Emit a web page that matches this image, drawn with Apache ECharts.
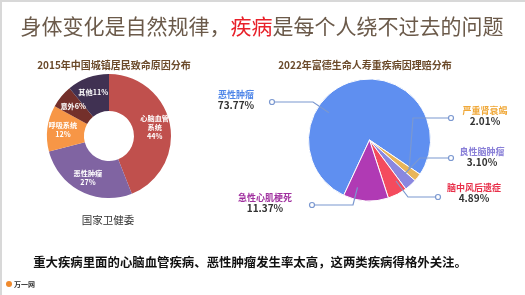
<!DOCTYPE html>
<html><head><meta charset="utf-8">
<script src="https://cdn.jsdelivr.net/npm/echarts@6/dist/echarts.min.js"></script>
<style>html,body{margin:0;padding:0;background:#fff}#c{width:525px;height:295px}</style>
</head><body><div id="c"></div>
<script>
// ---- data ----
const leftCategories = ['心脑血管\n系统', '恶性肿瘤', '呼吸系统', '意外', '其他'];
const leftValues = [44, 27, 12, 6, 11];
const leftLabelBreak = [true, true, true, false, false];
const rightCategories = ['恶性肿瘤', '严重肾衰竭', '良性脑肿瘤', '脑中风后遗症', '急性心肌梗死'];
const rightValues = [73.77, 2.01, 3.10, 4.89, 11.37];

// ---- styles / layout ----
const FONT = "'Noto Sans CJK SC', 'Noto Sans', sans-serif";
const leftColors = ['#c0504d', '#8064a2', '#f79646', '#74302b', '#403152'];
const rightColors = ['#5f8ff0', '#e8b55a', '#8a87e0', '#f44b5e', '#b03ab4'];
const rightNameColors = ['#4f86e8', '#f0a838', '#8a80d8', '#e8304a', '#a0309f'];
const RC = [369.5, 140], RR = 61, RSTART = 245;
const rDot = [[272, 102], [451, 118], [451, 158], [438, 197], [312, 205]];
const rElbow = [[313, 102], [413, 118], [420, 158], [408, 197], [353, 205]];
const rText = [[236, 100], [485, 116], [482, 157], [474, 193], [265, 203]];
const LINE = '#7b98d0';

const rTotal = rightValues.reduce((a, b) => a + b, 0);
const rRanges = [];
(function () { let a = RSTART; rightValues.forEach(v => { const s = v / rTotal * 360; rRanges.push([a - s, a]); a -= s; }); })();
function lineStart(i) {
  const lo = rRanges[i][0], hi = rRanges[i][1], e = rElbow[i];
  let t = Math.atan2(-(e[1] - RC[1]), e[0] - RC[0]) * 180 / Math.PI;
  while (t < lo) t += 360; while (t >= lo + 360) t -= 360;
  const m = (hi - lo) * 0.2;
  if (t > hi) { const dh = t - hi, dl = lo + 360 - t; t = dh < dl ? hi - m : lo + m; }
  else t = Math.min(Math.max(t, lo + m), hi - m);
  const rad = t * Math.PI / 180, r = RR * 0.8;
  return [RC[0] + r * Math.cos(rad), RC[1] - r * Math.sin(rad)];
}

const rich = { v: { fontSize: 10, fontWeight: 'bold', color: '#333', fontFamily: FONT, lineHeight: 11 } };
rightNameColors.forEach((c, i) => { rich['n' + i] = { fontSize: 9, fontWeight: 'bold', color: c, fontFamily: FONT, lineHeight: 11 }; });

const centerText = { align: 'center', verticalAlign: 'middle', textAlign: 'center', textVerticalAlign: 'middle' };
const graphics = [
  { type: 'rect', shape: { x: 0, y: 0, width: 525, height: 2 }, style: { fill: '#d8d8d8' } },
  { type: 'rect', shape: { x: 0, y: 0, width: 2, height: 295 }, style: { fill: '#d8d8d8' } },
  { type: 'text', x: 262, y: 26, style: Object.assign({
    text: '{a|身体变化是自然规律，}{b|疾病}{a|是每个人绕不过去的问题}',
    rich: { a: { fill: '#6b5a4a', fontSize: 21, fontFamily: FONT }, b: { fill: '#e8212a', fontSize: 21, fontFamily: FONT } } }, centerText) },
  { type: 'text', x: 114, y: 65, style: Object.assign({ text: '2015年中国城镇居民致命原因分布', fill: '#6b4a2a', fontSize: 10, fontWeight: 'bold', fontFamily: FONT }, centerText) },
  { type: 'text', x: 365, y: 65, style: Object.assign({ text: '2022年富德生命人寿重疾病因理赔分布', fill: '#6b4a2a', fontSize: 10, fontWeight: 'bold', fontFamily: FONT }, centerText) },
  { type: 'text', x: 108, y: 220, style: Object.assign({ text: '国家卫健委', fill: '#333', fontSize: 10.5, fontFamily: FONT }, centerText) },
  { type: 'text', x: 250, y: 262, style: Object.assign({ text: '重大疾病里面的心脑血管疾病、恶性肿瘤发生率太高，这两类疾病得格外关注。', fill: '#111', fontSize: 12.4, fontWeight: 'bold', fontFamily: FONT }, centerText) },
  { type: 'text', x: 6, y: 284, style: { text: '{i|}{t|万一网}', verticalAlign: 'middle', textVerticalAlign: 'middle',
    rich: { i: { width: 6, height: 6, backgroundColor: '#f08a2c', borderRadius: 3 }, t: { fill: '#333', fontSize: 7, fontWeight: 'bold', fontFamily: FONT, padding: [0, 0, 0, 2] } } } }
];
rightValues.forEach((v, i) => {
  graphics.push({ type: 'polyline', z: 100, shape: { points: [lineStart(i), rElbow[i], rDot[i]] }, style: { fill: 'none', stroke: LINE, lineWidth: 1.2 } });
  graphics.push({ type: 'circle', z: 100, shape: { cx: rDot[i][0], cy: rDot[i][1], r: 2.5 }, style: { fill: '#fff', stroke: LINE, lineWidth: 1.2 } });
});

const chart = echarts.init(document.getElementById('c'));
chart.setOption({
  animation: false,
  backgroundColor: '#fff',
  graphic: graphics,
  series: [
    {
      type: 'pie', center: [109, 136], radius: [25, 62], startAngle: 90, clockwise: true,
      data: leftValues.map((v, i) => ({ value: v, name: leftCategories[i], itemStyle: { color: leftColors[i] } })),
      label: {
        show: true, position: 'inside', color: '#fff', fontSize: 7.2, fontWeight: 'bold', lineHeight: 9, fontFamily: FONT,
        formatter: p => p.name + (leftLabelBreak[p.dataIndex] ? '\n' : '') + p.value + '%'
      },
      labelLine: { show: false }
    },
    {
      type: 'pie', center: RC, radius: RR, startAngle: RSTART, clockwise: true,
      itemStyle: { borderColor: '#fff', borderWidth: 1 },
      data: rightValues.map((v, i) => ({ value: v, name: rightCategories[i], itemStyle: { color: rightColors[i] } })),
      label: {
        show: true, position: 'outside', fontFamily: FONT,
        formatter: p => '{n' + p.dataIndex + '|' + p.name + '}\n{v|' + p.value.toFixed(2) + '%}',
        rich: rich
      },
      labelLine: { show: false },
      labelLayout: p => ({ x: rText[p.dataIndex][0], y: rText[p.dataIndex][1], align: 'center', verticalAlign: 'middle' })
    }
  ]
});
</script>
</body></html>
